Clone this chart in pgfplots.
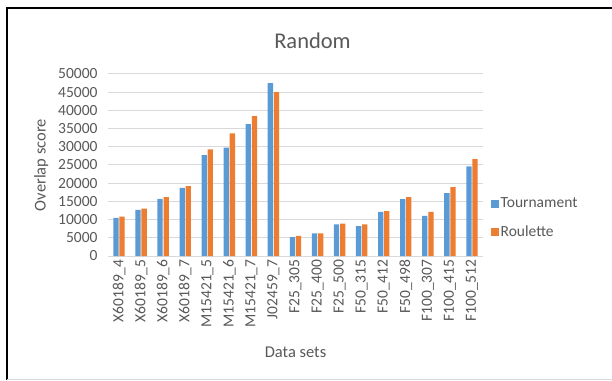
\documentclass[border=0pt]{standalone}
\usepackage{pgfplots}
\pgfplotsset{compat=1.18}
\usepackage{fontspec}
\setmainfont{Carlito}
\definecolor{tblue}{HTML}{5B9BD5}
\definecolor{torange}{HTML}{ED7D31}
\definecolor{tgrid}{HTML}{D9D9D9}
\definecolor{ttext}{HTML}{595959}
\pgfplotstableread{
idx tour roul
0 10500 10800
1 12700 13000
2 15700 16200
3 18700 19200
4 27700 29300
5 29800 33700
6 36200 38400
7 47500 45000
8 5200 5500
9 6200 6200
10 8700 8900
11 8200 8700
12 12100 12300
13 15600 16200
14 11000 12100
15 17300 18900
16 24600 26600
}\datatable
\begin{document}
\begin{tikzpicture}
\useasboundingbox (0,0) rectangle (612pt,380pt);
\fill[white] (0,0) rectangle (612pt,380pt);
\draw[black, line width=2pt] (6pt,372pt) -- (612pt,372pt);
\draw[black, line width=2pt] (7pt,373pt) -- (7pt,0pt);
\draw[tgrid, line width=1pt] (7pt,1pt) -- (612pt,1pt);
\begin{axis}[
  at={(108pt,124pt)}, anchor=south west,
  scale only axis, width=375pt, height=182pt,
  ybar=0.8pt, bar width=5.3pt,
  xmin=-0.5, xmax=16.5, ymin=0, ymax=50000,
  xtick=data,
  xticklabels={X60189\_4,X60189\_5,X60189\_6,X60189\_7,M15421\_5,M15421\_6,M15421\_7,J02459\_7,F25\_305,F25\_400,F25\_500,F50\_315,F50\_412,F50\_498,F100\_307,F100\_415,F100\_512},
  x tick label style={rotate=90, anchor=east, font=\fontsize{15.5}{18}\selectfont, text=ttext},
  ytick={0,5000,...,50000},
  y tick label style={font=\fontsize{15.5}{18}\selectfont, text=ttext, xshift=-7pt},
  scaled y ticks=false,
  yticklabel style={/pgf/number format/.cd, fixed, 1000 sep={}, assume math mode=true},
  /pgf/number format/assume math mode=true,
  major tick length=0pt,
  ymajorgrids, major grid style={draw=tgrid, line width=1pt},
  axis line style={draw=none},
  xlabel={Data sets}, ylabel={Overlap score},
  label style={font=\fontsize{16.5}{19}\selectfont, text=ttext},
  xlabel style={yshift=-12pt},
  ylabel style={yshift=3pt},
  title={Random},
  title style={font=\fontsize{22.5}{26}\selectfont, text=ttext, yshift=16pt, xshift=17pt},
  legend style={at={(1.012,0.21)}, anchor=west, draw=none, fill=none,
    font=\fontsize{15.5}{18}\selectfont, text=ttext, row sep=12pt,
    /tikz/every even column/.append style={column sep=0pt}},
  legend cell align=left,
  legend image code/.code={\fill[#1] (0pt,-4pt) rectangle (8pt,4pt);},
]
\draw[tgrid, line width=1pt] (axis cs:-0.5,0) -- (axis cs:16.5,0);
\addplot[fill=tblue, draw=none] table[x=idx, y=tour] {\datatable};
\addplot[fill=torange, draw=none] table[x=idx, y=roul] {\datatable};
\legend{Tournament, Roulette}
\end{axis}
\end{tikzpicture}
\end{document}
